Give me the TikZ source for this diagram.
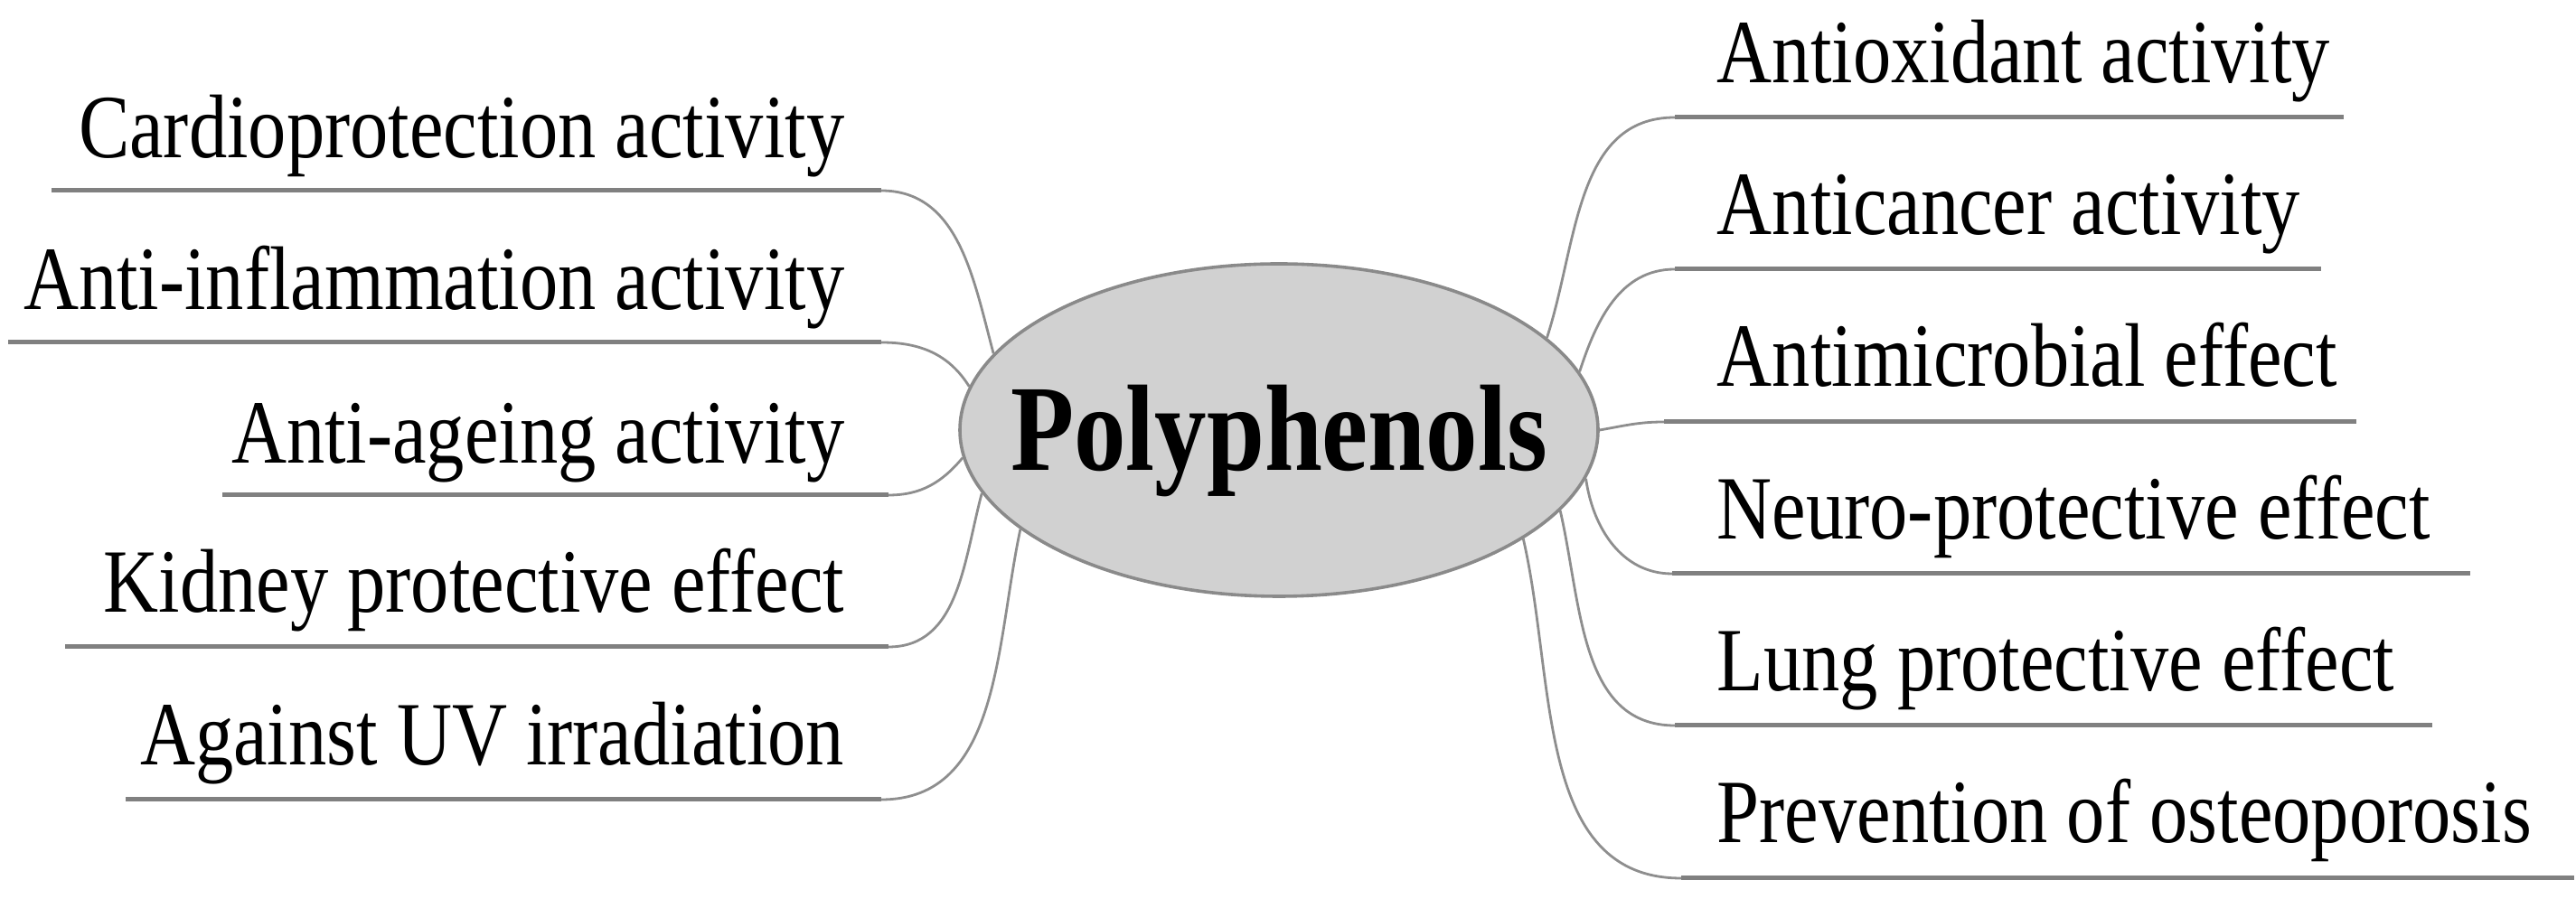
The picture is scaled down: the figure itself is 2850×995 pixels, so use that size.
\documentclass[tikz,border=0pt]{standalone}
\usepackage{fontspec}
\setmainfont{Liberation Serif}[FakeStretch=0.845]
\usetikzlibrary{shapes.geometric}
\definecolor{ulgray}{HTML}{808080}
\definecolor{cgray}{HTML}{8E8E8E}
\definecolor{egray}{HTML}{8A8A8A}
\definecolor{efill}{HTML}{D1D1D1}
\begin{document}
\begin{tikzpicture}[x=0.25pt,y=0.25pt,
  lbl/.style={inner sep=0pt, font=\fontsize{25}{30}\selectfont},
  uline/.style={draw=ulgray, line width=1.25pt},
  conn/.style={draw=cgray, line width=0.7pt},
  hub/.style={ellipse, draw=egray, line width=0.9pt, fill=efill, minimum width=176.5pt, minimum height=92pt, inner sep=0pt}]
\useasboundingbox (0,0) rectangle (2850,995);
% central node
\node[hub] (c) at (1415,519) {};
\node[inner sep=0pt, anchor=base, font=\fontsize{34}{40}\selectfont\bfseries] (t) at (1415,474) {Polyphenols};
% left labels
\node[lbl, anchor=base east] (l1) at (935,820) {Cardioprotection activity};
\node[lbl, anchor=base east] (l2) at (935,652) {Anti-inflammation activity};
\node[lbl, anchor=base east] (l3) at (935,482) {Anti-ageing activity};
\node[lbl, anchor=base east] (l4) at (935,317) {Kidney protective effect};
\node[lbl, anchor=base east] (l5) at (935,148) {Against UV irradiation};
% right labels
\node[lbl, anchor=base west] (r1) at (1899,903) {Antioxidant activity};
\node[lbl, anchor=base west] (r2) at (1899,735) {Anticancer activity};
\node[lbl, anchor=base west] (r3) at (1899,567) {Antimicrobial effect};
\node[lbl, anchor=base west] (r4) at (1899,398) {Neuro-protective effect};
\node[lbl, anchor=base west] (r5) at (1899,230) {Lung protective effect};
\node[lbl, anchor=base west] (r6) at (1899,62) {Prevention of osteoporosis};
% underline end points
\coordinate (l1a) at (57,784);  \coordinate (l1b) at (975,784);
\coordinate (l2a) at (9,616);   \coordinate (l2b) at (975,616);
\coordinate (l3a) at (246,447); \coordinate (l3b) at (983,447);
\coordinate (l4a) at (72,279);  \coordinate (l4b) at (983,279);
\coordinate (l5a) at (139,110); \coordinate (l5b) at (975,110);
\coordinate (r1a) at (1853,865); \coordinate (r1b) at (2593,865);
\coordinate (r2a) at (1853,697); \coordinate (r2b) at (2568,697);
\coordinate (r3a) at (1841,528); \coordinate (r3b) at (2607,528);
\coordinate (r4a) at (1850,360); \coordinate (r4b) at (2733,360);
\coordinate (r5a) at (1853,192); \coordinate (r5b) at (2691,192);
\coordinate (r6a) at (1860,23);  \coordinate (r6b) at (2848,23);
% underlines
\foreach \n in {l1,l2,l3,l4,l5,r1,r2,r3,r4,r5,r6}
  \draw[uline] (\n a) -- (\n b);
% connectors
\draw[conn] (c.165.9) to[out=105, in=0] (l1b);
\draw[conn] (c.172.9) to[out=122, in=0] (l2b);
\draw[conn] (c.185.2) to[out=230, in=0] (l3b);
\draw[conn] (c.192.8) to[out=255, in=0] (l4b);
\draw[conn] (c.201.4) to[out=258, in=0] (l5b);
\draw[conn] (c.19.8) to[out=72, in=180] (r1a);
\draw[conn] (c.11.2) to[out=72, in=180] (r2a);
\draw[conn] (c.0.6) to[out=10, in=180] (r3a);
\draw[conn] (c.-9.2) to[out=-82, in=180] (r4a);
\draw[conn] (c.-16.5) to[out=-77, in=180] (r5a);
\draw[conn] (c.-24.5) to[out=-77, in=180] (r6a);
\end{tikzpicture}
\end{document}
